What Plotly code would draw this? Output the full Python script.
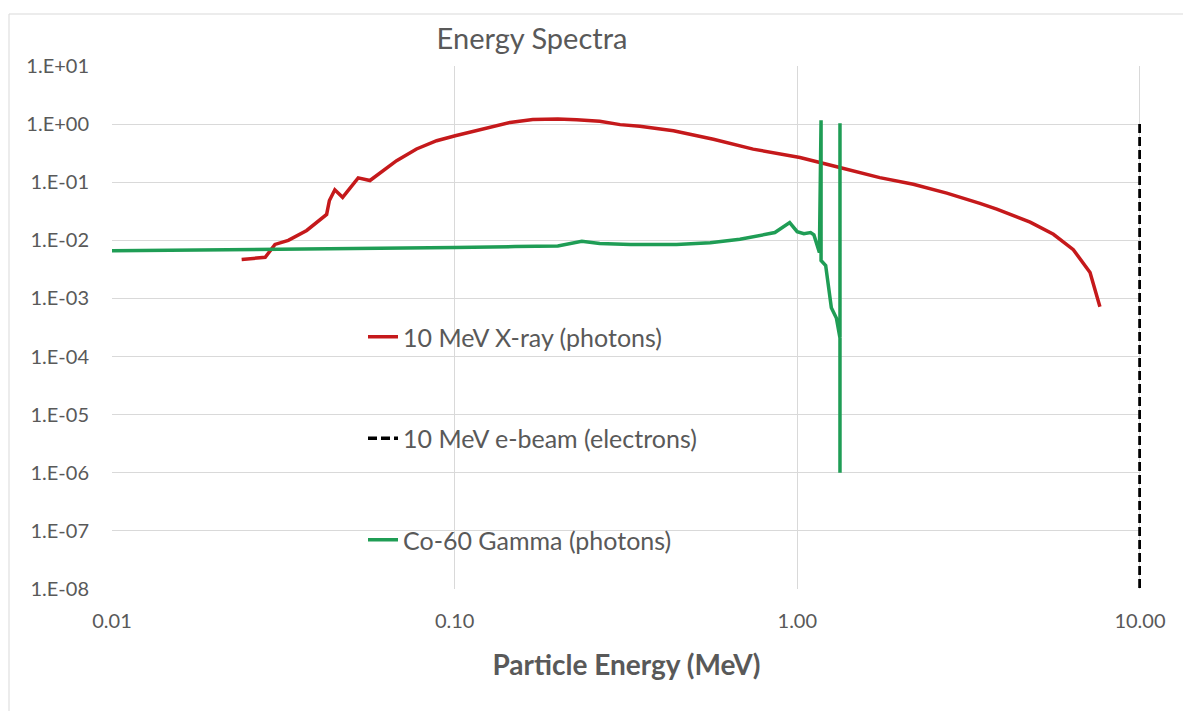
import plotly.graph_objects as go

# ---------------- data ----------------
xray_energy = [0.0239, 0.028, 0.0299, 0.0327, 0.037, 0.0423, 0.0431, 0.0447, 0.0471, 0.0523,
               0.0566, 0.0677, 0.0774, 0.0886, 0.1004, 0.121, 0.145, 0.169, 0.20, 0.227,
               0.265, 0.304, 0.347, 0.435, 0.569, 0.743, 1.018, 1.33, 1.74, 2.18,
               2.73, 3.41, 3.82, 4.78, 5.59, 6.39, 7.15, 7.64]
xray_flux = [0.0047, 0.0051, 0.0085, 0.0100, 0.0148, 0.0279, 0.0485, 0.074, 0.055, 0.119,
             0.107, 0.235, 0.373, 0.518, 0.631, 0.821, 1.07, 1.2, 1.22, 1.19,
             1.12, 0.98, 0.92, 0.77, 0.55, 0.371, 0.266, 0.179, 0.12, 0.092,
             0.065, 0.0434, 0.0344, 0.0205, 0.0127, 0.0069, 0.0028, 0.00072]

ebeam_energy = [10.0, 10.0]
ebeam_flux = [1.0, 1e-8]

co60_energy = [0.01, 0.02, 0.05, 0.1, 0.15, 0.2, 0.235, 0.265, 0.326, 0.444,
               0.557, 0.68, 0.86, 0.95, 0.999, 1.045, 1.093, 1.118, 1.16, 1.173,
               1.173, 1.21, 1.257, 1.30, 1.332, 1.332, 1.332]
co60_flux = [0.0066, 0.0068, 0.0072, 0.0075, 0.0078, 0.0080, 0.0096, 0.0088, 0.0085, 0.0085,
             0.0091, 0.0104, 0.0136, 0.0202, 0.0141, 0.013, 0.0136, 0.0124, 0.0062, 1.17,
             0.0045, 0.0037, 0.00069, 0.00046, 0.00021, 1.03, 1.0e-6]

x_tickvals = [0.01, 0.1, 1, 10]
x_ticktext = ["0.01", "0.10", "1.00", "10.00"]
y_tickvals = [1e1, 1e0, 1e-1, 1e-2, 1e-3, 1e-4, 1e-5, 1e-6, 1e-7, 1e-8]
y_ticktext = ["1.E+01", "1.E+00", "1.E-01", "1.E-02", "1.E-03", "1.E-04",
              "1.E-05", "1.E-06", "1.E-07", "1.E-08"]

FONT = "Lato, 'Open Sans', sans-serif"
GREY = "#595959"
GRID = "#d9d9d9"

fig = go.Figure()
fig.add_trace(go.Scatter(x=xray_energy, y=xray_flux, mode="lines",
                         name="10 MeV X-ray (photons)", legendgroup="a",
                         line=dict(color="#c5191b", width=3.5)))
fig.add_trace(go.Scatter(x=ebeam_energy, y=ebeam_flux, mode="lines",
                         name="10 MeV e-beam (electrons)", legendgroup="b",
                         line=dict(color="#000000", width=3.5, dash="9px,4px")))
fig.add_trace(go.Scatter(x=co60_energy, y=co60_flux, mode="lines",
                         name="Co-60 Gamma (photons)", legendgroup="c",
                         line=dict(color="#1f9d55", width=3.5)))

W, H = 1183, 711
L, R, T, B = 112, 1141, 66, 589
fig.update_layout(
    width=W, height=H,
    margin=dict(l=L, r=W - R, t=T, b=H - B, autoexpand=False),
    paper_bgcolor="white", plot_bgcolor="white",
    font=dict(family=FONT, color=GREY, size=20),
    title=dict(text="Energy Spectra", x=532 / W, xanchor="center",
               y=1 - 39 / H, yanchor="middle",
               font=dict(family=FONT, size=29, color=GREY)),
    showlegend=True,
    legend=dict(x=(363 - L) / (R - L), xanchor="left",
                y=(B - 314) / (B - T), yanchor="top",
                traceorder="grouped", tracegroupgap=66,
                bgcolor="rgba(0,0,0,0)",
                font=dict(family=FONT, size=25, color=GREY)),
    xaxis=dict(type="log", range=[-2, 1.003],
               tickvals=x_tickvals, ticktext=x_ticktext,
               showgrid=True, gridcolor=GRID, gridwidth=1,
               zeroline=False, showline=False,
               ticks="outside", ticklen=14, tickcolor="rgba(0,0,0,0)",
               tickfont=dict(family=FONT, size=20, color=GREY),
               title=dict(text="<b>Particle Energy (MeV)</b>", standoff=24,
                          font=dict(family=FONT, size=28, color=GREY))),
    yaxis=dict(type="log", range=[-8, 1],
               tickvals=y_tickvals, ticktext=y_ticktext,
               showgrid=True, gridcolor=GRID, gridwidth=1,
               zeroline=False, showline=False,
               ticks="outside", ticklen=18, tickcolor="rgba(0,0,0,0)",
               tickfont=dict(family=FONT, size=20, color=GREY)),
    shapes=[dict(type="rect", xref="paper", yref="paper",
                 x0=(9 - L) / (R - L), x1=(1200 - L) / (R - L),
                 y0=(B - 730) / (B - T), y1=(B - 14) / (B - T),
                 line=dict(color=GRID, width=1), fillcolor="rgba(0,0,0,0)",
                 layer="below")],
)

fig.write_html("out.html")
